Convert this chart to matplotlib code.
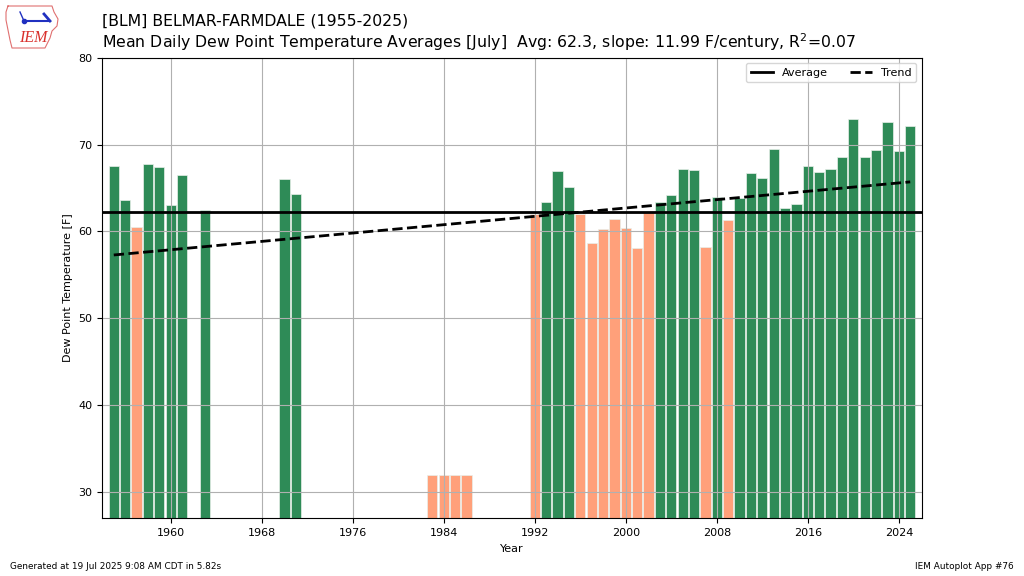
import numpy as np
import matplotlib
matplotlib.use('agg')
import matplotlib.pyplot as plt
from matplotlib.ticker import MultipleLocator

# July mean dew point [F] per year
years = [1955, 1956, 1957, 1958, 1959, 1960, 1961, 1963, 1970, 1971,
         1983, 1984, 1985, 1986,
         1992, 1993, 1994, 1995, 1996, 1997, 1998, 1999, 2000, 2001,
         2002, 2003, 2004, 2005, 2006, 2007, 2008, 2009, 2010, 2011,
         2012, 2013, 2014, 2015, 2016, 2017, 2018, 2019, 2020, 2021,
         2022, 2023, 2024, 2025]
dewpoint = [67.5, 63.65, 60.5, 67.73, 67.38, 63.1, 66.5, 62.46, 66.03, 64.3,
            32.0, 32.0, 32.0, 32.0,
            62.0, 63.4, 66.9, 65.1, 62.0, 58.7, 60.3, 61.45, 60.4, 58.15,
            62.2, 63.4, 64.2, 67.2, 67.1, 58.2, 64.0, 61.3, 63.9, 66.7,
            66.15, 69.5, 62.65, 63.2, 67.5, 66.8, 67.2, 68.6, 72.9, 68.6,
            69.4, 72.6, 69.2, 72.1]

title1 = "[BLM] BELMAR-FARMDALE (1955-2025)"
title2 = ("Mean Daily Dew Point Temperature Averages [July]  Avg: 62.3, "
          "slope: 11.99 F/century, R$^2$=0.07")

years = np.array(years)
dewpoint = np.array(dewpoint)
avg = dewpoint.mean()
slope, intercept = np.polyfit(years, dewpoint, 1)

colors = ['seagreen' if v >= avg else 'lightsalmon' for v in dewpoint]

W, H = 1024, 576
fig = plt.figure(figsize=(W / 100, H / 100), dpi=100)
ax = fig.add_axes([0.1, 0.1, 0.8, 0.8])

ax.bar(years, dewpoint, width=0.9, color=colors, edgecolor='#e8f0ea', linewidth=0.5)
ax.axhline(avg, color='k', lw=2, label='Average')
ax.plot(years[[0, -1]], slope * years[[0, -1]] + intercept, 'k--', lw=2, label='Trend')

ax.set_xlim(1954, 2026)
ax.set_ylim(27, 80)
ax.xaxis.set_major_locator(MultipleLocator(8))
ax.tick_params(labelsize=8)
ax.grid(True)
ax.set_xlabel("Year", fontsize=8)
ax.set_ylabel("Dew Point Temperature [F]", fontsize=8)
ax.legend(loc='upper right', ncol=2, fontsize=8)

fig.text(0.1, 0.955, title1, fontsize=11.3, va='baseline')
fig.text(0.1, 0.917, title2, fontsize=11.3, va='baseline')

# rough IEM logo: Iowa outline + text
ia_x = [8, 52, 54, 58, 57, 52, 50, 47, 45, 12, 10, 8, 6, 6, 8]
ia_y = [6, 6, 12, 19, 26, 31, 38, 44, 48, 48, 40, 30, 20, 12, 6]
fig.add_artist(plt.Line2D([x / W for x in ia_x], [1 - y / H for y in ia_y],
                          color='#e07070', lw=0.8, transform=fig.transFigure))
fig.add_artist(plt.Line2D([24 / W, 50 / W], [1 - 21 / H, 1 - 21 / H],
                          color='#2030c0', lw=1.5, transform=fig.transFigure))
fig.add_artist(plt.Line2D([20 / W, 24 / W], [1 - 12 / H, 1 - 21 / H],
                          color='#2030c0', lw=1, transform=fig.transFigure))
fig.add_artist(plt.Line2D([44 / W, 50 / W], [1 - 14 / H, 1 - 21 / H],
                          color='#2030c0', lw=2, transform=fig.transFigure))
fig.add_artist(plt.Line2D([24 / W], [1 - 21 / H], marker='o', ms=3,
                          color='#2030c0', transform=fig.transFigure))
fig.text(33 / W, 1 - 38 / H, "IEM", color='#d9302c', fontsize=11.5,
         family='Liberation Serif', style='italic', ha='center', va='center')

fig.text(0.01, 0.012, "Generated at 19 Jul 2025 9:08 AM CDT in 5.82s", fontsize=6.4)
fig.text(0.99, 0.012, "IEM Autoplot App #76", fontsize=6.4, ha='right')

fig.savefig('out.png', dpi=100)
